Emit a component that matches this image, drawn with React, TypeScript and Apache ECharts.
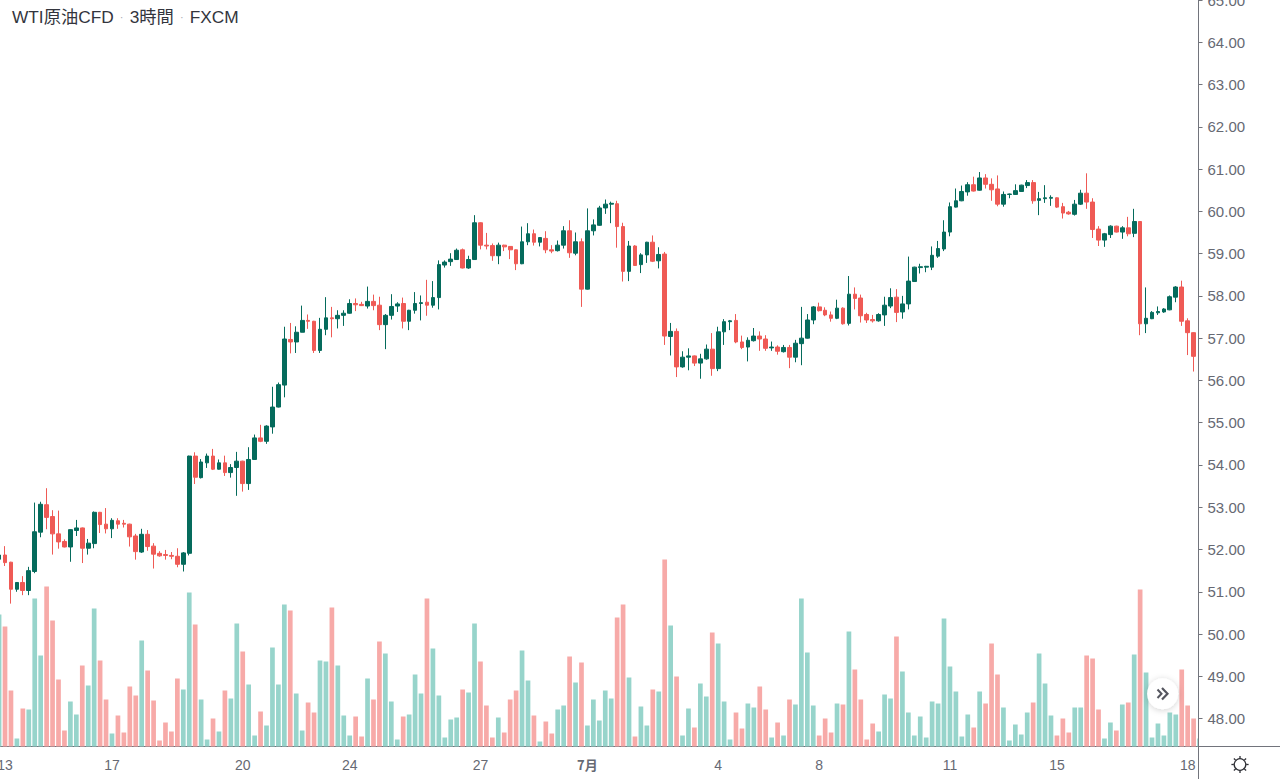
import React, { useEffect, useRef } from "react";
import * as echarts from "echarts";

const TITLE_NAME = "WTI原油CFD";
const TITLE_INTERVAL = "3時間";
const TITLE_SOURCE = "FXCM";

const tickLabels = ["13", "17", "20", "24", "27", "7月", "4", "8", "11", "15", "18"];
const tickIndices = [1, 19, 41, 59, 81, 99, 121, 138, 160, 178, 200];
const priceTicks = [48, 49, 50, 51, 52, 53, 54, 55, 56, 57, 58, 59, 60, 61, 62, 63, 64, 65];

// open, close, low, high
const ohlc: number[][] = [
  [51.77,51.87,51.77,51.95],[51.87,51.69,51.61,52.08],[51.70,51.06,50.72,51.71],[51.06,51.22,51.00,51.22],[51.22,51.03,50.92,51.37],
  [51.03,51.50,50.92,51.59],[51.48,52.42,51.44,53.11],[52.41,53.07,52.29,53.13],[53.06,52.76,52.48,53.45],[52.78,52.37,51.88,52.93],
  [52.37,52.18,52.02,52.92],[52.19,52.06,52.05,52.24],[52.06,52.47,51.71,52.48],[52.45,52.51,52.32,52.70],[52.51,52.03,51.68,52.52],
  [52.03,52.15,51.88,52.25],[52.14,52.88,52.03,52.90],[52.88,52.59,52.39,52.89],[52.60,52.49,52.38,52.98],[52.49,52.69,52.27,52.74],
  [52.68,52.60,52.49,52.74],[52.62,52.60,52.52,52.70],[52.60,52.30,52.07,52.61],[52.32,51.95,51.76,52.37],[51.94,52.36,51.92,52.49],
  [52.36,52.07,51.97,52.46],[52.08,51.89,51.55,52.15],[51.91,51.85,51.83,51.96],[51.88,51.86,51.76,51.99],[51.86,51.84,51.77,51.94],
  [51.84,51.65,51.58,52.03],[51.65,51.92,51.48,51.94],[51.91,54.21,51.86,54.22],[54.21,53.71,53.55,54.30],[53.70,54.07,53.68,54.14],
  [54.05,54.21,53.93,54.27],[54.21,53.90,53.88,54.38],[53.90,54.05,53.89,54.13],[54.05,53.82,53.74,54.22],[53.82,53.94,53.70,54.02],
  [53.94,54.09,53.27,54.31],[54.09,53.56,53.37,54.10],[53.56,54.13,53.41,54.42],[54.13,54.64,54.12,54.72],[54.64,54.56,54.54,54.95],
  [54.56,54.92,54.50,54.94],[54.90,55.37,54.74,55.85],[55.37,55.90,55.36,55.95],[55.89,56.98,55.60,57.27],[56.97,56.91,56.64,57.36],
  [56.91,57.14,56.65,57.28],[57.14,57.42,57.14,57.77],[57.42,57.40,57.22,57.56],[57.40,56.71,56.65,57.41],[56.71,57.21,56.65,57.48],
  [57.21,57.48,57.07,57.97],[57.48,57.46,57.02,57.74],[57.46,57.54,57.23,57.66],[57.54,57.59,57.29,57.66],[57.59,57.82,57.58,57.92],
  [57.82,57.79,57.64,57.94],[57.80,57.77,57.76,57.86],[57.76,57.87,57.70,58.22],[57.87,57.77,57.66,58.03],[57.78,57.32,57.19,57.98],
  [57.32,57.54,56.74,57.57],[57.54,57.75,57.44,58.04],[57.76,57.81,57.62,57.85],[57.82,57.40,57.23,57.96],[57.40,57.66,57.19,57.67],
  [57.66,57.82,57.58,58.09],[57.82,57.84,57.42,58.01],[57.85,57.78,57.53,58.38],[57.78,57.96,57.72,58.35],[57.96,58.74,57.68,58.84],
  [58.73,58.80,58.67,58.84],[58.81,58.87,58.71,59.01],[58.86,59.08,58.85,59.12],[59.09,58.66,58.65,59.12],[58.66,58.86,58.64,58.95],
  [58.86,59.73,58.85,59.91],[59.73,59.20,59.10,59.74],[59.20,59.18,59.10,59.49],[59.19,58.95,58.83,59.24],[58.95,59.20,58.75,59.26],
  [59.20,59.16,59.06,59.21],[59.17,59.09,58.87,59.18],[59.09,58.76,58.61,59.10],[58.76,59.28,58.75,59.64],[59.28,59.47,59.20,59.72],
  [59.47,59.27,59.19,59.57],[59.27,59.38,59.17,59.39],[59.36,59.09,59.01,59.53],[59.09,59.06,59.01,59.20],[59.07,59.20,59.05,59.31],
  [59.20,59.54,59.12,59.65],[59.54,59.02,58.90,59.79],[59.01,59.28,58.96,59.50],[59.28,58.16,57.74,59.36],[58.16,59.54,58.15,60.07],
  [59.54,59.68,59.43,59.81],[59.67,60.08,59.66,60.13],[60.08,60.17,59.94,60.28],[60.17,60.19,59.72,60.23],[60.18,59.64,59.14,60.25],
  [59.64,58.58,58.34,59.73],[58.58,59.18,58.35,59.30],[59.18,58.72,58.71,59.20],[58.74,58.97,58.54,59.01],[58.97,59.27,58.78,59.28],
  [59.27,58.82,58.80,59.43],[58.83,58.98,58.65,59.15],[58.99,57.05,56.84,59.04],[57.04,57.16,56.59,57.36],[57.16,56.32,56.08,57.23],
  [56.32,56.55,56.30,56.69],[56.55,56.58,56.24,56.76],[56.58,56.41,56.34,56.59],[56.41,56.51,56.04,56.63],[56.51,56.74,56.49,56.85],
  [56.74,56.28,56.11,57.12],[56.28,57.15,56.22,57.27],[57.15,57.39,56.84,57.45],[57.39,57.41,57.19,57.43],[57.42,56.91,56.88,57.57],
  [56.91,56.78,56.74,57.06],[56.79,56.95,56.45,57.02],[56.94,57.05,56.92,57.24],[57.05,56.98,56.70,57.16],[56.98,56.76,56.70,57.07],
  [56.77,56.79,56.70,56.92],[56.79,56.69,56.61,56.83],[56.68,56.78,56.66,56.84],[56.78,56.55,56.29,56.84],[56.55,56.88,56.43,56.96],
  [56.87,57.00,56.36,57.74],[57.00,57.43,56.99,57.57],[57.43,57.74,57.33,57.76],[57.74,57.65,57.63,57.84],[57.66,57.55,57.52,57.73],
  [57.55,57.47,57.39,57.63],[57.47,57.71,57.45,57.91],[57.71,57.34,57.32,57.73],[57.35,58.04,57.30,58.47],[58.04,57.94,57.68,58.20],
  [57.95,57.53,57.37,58.03],[57.56,57.43,57.36,57.60],[57.44,57.41,57.37,57.55],[57.41,57.56,57.39,57.59],[57.55,57.78,57.29,57.98],
  [57.76,57.96,57.71,58.18],[57.97,57.61,57.38,58.16],[57.62,57.81,57.46,58.00],[57.81,58.35,57.68,58.93],[58.34,58.68,58.33,58.69],
  [58.67,58.69,58.53,58.76],[58.68,58.70,58.56,58.71],[58.68,58.96,58.61,59.17],[58.94,59.12,58.90,59.30],[59.11,59.51,59.06,59.79],
  [59.51,60.11,59.41,60.21],[60.10,60.25,60.09,60.54],[60.25,60.47,60.24,60.61],[60.46,60.63,60.37,60.69],[60.63,60.48,60.47,60.82],
  [60.50,60.79,60.49,60.93],[60.79,60.64,60.54,60.88],[60.64,60.51,60.25,60.78],[60.53,60.17,60.12,60.85],[60.17,60.40,60.11,60.47],
  [60.40,60.41,60.31,60.42],[60.40,60.49,60.39,60.64],[60.47,60.62,60.46,60.63],[60.61,60.68,60.55,60.74],[60.68,60.25,60.18,60.74],
  [60.26,60.30,59.91,60.46],[60.30,60.32,60.20,60.62],[60.31,60.33,60.13,60.38],[60.32,60.10,60.08,60.33],[60.11,59.96,59.83,60.20],
  [59.98,59.94,59.92,60.01],[59.93,60.17,59.90,60.27],[60.17,60.43,60.15,60.51],[60.43,60.22,60.06,60.90],[60.22,59.57,59.37,60.31],
  [59.58,59.32,59.18,59.65],[59.32,59.47,59.16,59.49],[59.45,59.65,59.37,59.67],[59.65,59.51,59.50,59.66],[59.51,59.61,59.35,59.65],
  [59.61,59.47,59.41,59.87],[59.48,59.76,59.39,60.06],[59.76,57.34,57.07,59.77],[57.34,57.47,57.12,58.20],[57.46,57.61,57.45,57.64],
  [57.60,57.63,57.55,57.75],[57.62,57.69,57.60,57.71],[57.67,57.98,57.66,58.01],[57.97,58.21,57.85,58.23],[58.21,57.40,57.29,58.36],
  [57.41,57.13,56.60,57.47],[57.13,56.57,56.21,57.14],
];

const volumes = [
  132,120,56,8,38,37,148,91,160,126,67,16,45,32,81,61,138,86,47,13,31,14,60,51,106,76,46,6,24,15,68,57,154,122,47,7,28,15,56,48,
  123,95,62,11,35,21,99,62,142,136,53,16,44,34,86,85,139,81,31,11,30,10,68,47,105,93,45,7,30,32,72,53,148,98,51,9,27,29,57,54,
  123,85,41,9,29,14,47,56,96,66,31,5,25,13,37,41,90,64,84,21,47,26,56,48,129,142,69,10,40,21,57,55,187,121,70,11,38,19,63,50,
  114,103,45,7,34,18,43,39,60,37,9,24,11,47,42,148,94,41,11,28,14,43,42,115,77,47,7,23,15,52,48,110,75,34,11,30,9,45,43,128,
  80,55,10,32,19,55,43,103,72,39,6,22,12,34,44,93,63,31,11,28,14,39,39,91,88,37,8,24,16,42,44,92,157,74,9,23,11,34,32,77,41,28,8,
];

const GREEN = "#056b5c";
const RED = "#ef5a55";
const VOL_GREEN = "#97d4cb";
const VOL_RED = "#f7aaa8";
const AXIS = "#72747c";
const LABEL = "#666973";

const STEP = 5.943;
const GRID_LEFT = -3.9;
const GRID_WIDTH = STEP * volumes.length;

const categories = volumes.map((_, i) => String(i));
const labelFor = (i: number) => {
  const at = tickIndices.indexOf(i);
  return at < 0 ? "" : tickLabels[at];
};
const isTick = (i: number) => tickIndices.indexOf(i) >= 0;

const sunRays = [0, 45, 90, 135, 180, 225, 270, 315].map((deg) => {
  const r = (deg * Math.PI) / 180;
  return {
    type: "line",
    z: 12,
    shape: {
      x1: 1240 + Math.cos(r) * 6.2,
      y1: 764.5 + Math.sin(r) * 6.2,
      x2: 1240 + Math.cos(r) * 8.6,
      y2: 764.5 + Math.sin(r) * 8.6,
    },
    style: { stroke: "#2c2d33", lineWidth: 1.3 },
    silent: true,
  };
});

export default function App() {
  const ref = useRef<HTMLDivElement | null>(null);
  useEffect(() => {
    document.body.style.margin = "0";
    const chart = echarts.init(ref.current!, undefined, { renderer: "svg" });
    chart.setOption({
      animation: false,
      backgroundColor: "#ffffff",
      title: {
        left: 12,
        top: 8,
        padding: 0,
        text: `{m|${TITLE_NAME}}{d|  ·  }{m|${TITLE_INTERVAL}}{d|  ·  }{m|${TITLE_SOURCE}}`,
        textStyle: {
          fontWeight: "normal",
          rich: {
            m: { fontSize: 17.3, fontWeight: "normal", color: "#33353d", fontFamily: "'Liberation Sans','Noto Sans CJK JP',sans-serif" },
            d: { fontSize: 11, fontWeight: "normal", color: "#a8aab0", fontFamily: "'Liberation Sans',sans-serif" },
          },
        },
      },
      grid: [
        { left: GRID_LEFT, width: GRID_WIDTH, top: 0, height: 760.86, outerBoundsMode: "none" },
        { left: GRID_LEFT, width: GRID_WIDTH, top: 546.5, height: 200, outerBoundsMode: "none" },
      ],
      xAxis: [
        { type: "category", gridIndex: 0, data: categories, show: false, boundaryGap: true },
        {
          type: "category",
          gridIndex: 1,
          data: categories,
          boundaryGap: true,
          axisLine: { lineStyle: { color: AXIS, width: 1 } },
          axisTick: { interval: (i: number) => isTick(i), alignWithLabel: true, length: 4, lineStyle: { color: AXIS } },
          axisLabel: {
            interval: (i: number) => isTick(i),
            margin: 11,
            hideOverlap: false,
            color: LABEL,
            fontSize: 14,
            fontFamily: "'Liberation Sans',sans-serif",
            formatter: (_: string, i: number) => {
              const t = labelFor(i);
              return t === "7月" ? `{b|${t}}` : t;
            },
            rich: {
              b: { fontSize: 13, fontWeight: "bold", color: LABEL, fontFamily: "'Noto Sans CJK JP',sans-serif" },
            },
          },
        },
      ],
      yAxis: [
        {
          type: "value",
          gridIndex: 0,
          min: 47,
          max: 65,
          position: "right",
          offset: -4,
          z: 10,
          splitLine: { show: false },
          axisLine: { show: true, lineStyle: { color: AXIS, width: 1 } },
          axisTick: { show: true, length: 4, lineStyle: { color: AXIS }, customValues: priceTicks },
          axisLabel: {
            customValues: priceTicks,
            margin: 9,
            color: LABEL,
            fontSize: 15,
            fontFamily: "'Liberation Sans',sans-serif",
            formatter: (v: number) => v.toFixed(2),
          },
        },
        { type: "value", gridIndex: 1, min: 0, max: 200, show: false, splitLine: { show: false } },
      ],
      series: [
        {
          type: "bar",
          xAxisIndex: 1,
          yAxisIndex: 1,
          barWidth: 4.7,
          z: 1,
          data: volumes.map((v, i) => {
            const c = ohlc[i];
            const up = c ? c[1] >= c[0] : true;
            return { value: v, itemStyle: { color: up ? VOL_GREEN : VOL_RED } };
          }),
        },
        {
          type: "candlestick",
          xAxisIndex: 0,
          yAxisIndex: 0,
          barWidth: 4.2,
          z: 2,
          itemStyle: { color: GREEN, color0: RED, borderColor: GREEN, borderColor0: RED, borderWidth: 1 },
          data: ohlc,
        },
      ],
      graphic: {
        elements: [
          { type: "rect", z: 5, silent: true, shape: { x: 1199, y: 0, width: 81, height: 779 }, style: { fill: "#ffffff" } },
          { type: "line", z: 11, silent: true, shape: { x1: 1198.5, y1: 760, x2: 1198.5, y2: 779 }, style: { stroke: AXIS, lineWidth: 1 } },
          { type: "line", z: 11, silent: true, shape: { x1: 1198.5, y1: 746.5, x2: 1280, y2: 746.5 }, style: { stroke: AXIS, lineWidth: 1 } },
          { type: "circle", z: 11, silent: true, shape: { cx: 1240, cy: 764.5, r: 5.8 }, style: { fill: "#ffffff", stroke: "#2c2d33", lineWidth: 1.3 } },
          ...sunRays,
          {
            type: "circle",
            z: 11,
            silent: true,
            shape: { cx: 1162.6, cy: 693.8, r: 15.5 },
            style: { fill: "#ffffff", shadowBlur: 6, shadowColor: "rgba(0,0,0,0.18)", shadowOffsetY: 1 },
          },
          {
            type: "polyline",
            z: 12,
            silent: true,
            shape: { points: [[1157.5, 689.5], [1161.5, 693.8], [1157.5, 698]] },
            style: { stroke: "#55565f", fill: "none", lineWidth: 2 },
          },
          {
            type: "polyline",
            z: 12,
            silent: true,
            shape: { points: [[1162, 688], [1167.5, 693.8], [1162, 699.6]] },
            style: { stroke: "#55565f", fill: "none", lineWidth: 2.2 },
          },
        ],
      },
    });
    return () => chart.dispose();
  }, []);
  return <div ref={ref} style={{ width: 1280, height: 779 }} />;
}
